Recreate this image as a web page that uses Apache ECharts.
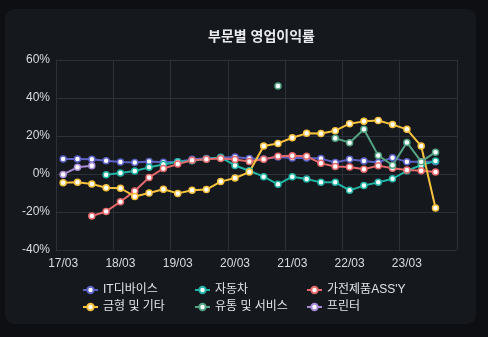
<!DOCTYPE html>
<html><head><meta charset="utf-8">
<script src="https://cdn.jsdelivr.net/npm/echarts@6/dist/echarts.min.js"></script>
<style>
html,body{margin:0;padding:0;background:#0d0f12;width:488px;height:337px;overflow:hidden}
#card{position:absolute;left:5px;top:9px;width:471px;height:315px;background:#15181d;border-radius:9px}
#c{position:absolute;left:0;top:0;width:488px;height:337px}
</style></head><body>
<div id="card"></div><div id="c"></div>
<script>
const categories = ['17/03','17/06','17/09','17/12','18/03','18/06','18/09','18/12','19/03','19/06','19/09','19/12',
  '20/03','20/06','20/09','20/12','21/03','21/06','21/09','21/12','22/03','22/06','22/09','22/12','23/03','23/06','23/09','23/12'];
const itDevice = [7.9,7.9,7.7,7.0,6.3,6.1,6.6,6.2,6.5,7.7,8.2,8.6,9.0,8.2,7.9,8.9,8.4,8.4,8.1,6.1,7.7,6.8,6.1,8.6,6.4,6.4,6.5,null];
const auto = [null,null,null,-0.4,0.5,1.6,3.5,5.0,6.4,7.0,7.9,8.8,4.5,1.7,-1.4,-5.4,-1.4,-2.6,-4.4,-4.4,-8.6,-6.1,-4.4,-2.5,1.7,4.7,6.8,null];
const appliance = [null,null,-22.1,-19.7,-14.6,-8.9,-1.8,2.9,5.2,7.2,7.7,8.2,7.6,6.6,7.7,9.3,9.6,9.3,5.6,4.0,3.7,2.5,4.4,3.0,2.1,1.7,1.0,null];
const mold = [-4.6,-4.4,-5.3,-7.2,-7.5,-11.8,-10.0,-8.0,-10.2,-8.6,-8.2,-4.0,-2.1,1.0,14.7,16.1,19.1,21.4,21.3,22.8,26.5,27.7,28.2,26.0,23.5,14.7,-17.9,null];
const retail = [null,null,null,null,null,null,null,null,null,null,null,null,null,null,null,46.3,null,null,null,18.8,16.5,23.5,9.8,4.6,16.6,6.5,11.5,null];
const printer = [-0.2,3.5,4.4,null,null,null,null,null,null,null,null,null,null,null,null,null,null,null,null,null,null,null,null,null,null,null,null,null];
const seriesNames = ['IT디바이스','자동차',"가전제품ASS'Y",'금형 및 기타','유통 및 서비스','프린터'];
const seriesColors = ['#5d62c6','#22b5a6','#e66a6c','#f7c23e','#55a585','#a98bd6'];
const yTicks = [-40,-20,0,20,40,60];

const FONT = 'Arial, "Liberation Sans", "Noto Sans CJK KR", sans-serif';
const allData = [itDevice, auto, appliance, mold, retail, printer];
const series = allData.map((d,i)=>({
  name: seriesNames[i], type:'line', data:d, symbol:'circle', symbolSize:6, showSymbol:true, showAllSymbol:true,
  lineStyle:{color:seriesColors[i], width:2}, itemStyle:{color:'#ffffff', borderColor:seriesColors[i], borderWidth:1.5},
  emphasis:{disabled:true}, animation:false
}));
const legendBase = {orient:'vertical', top:279, itemWidth:15, itemHeight:8, itemGap:5,
  textStyle:{color:'#e2e4e8', fontSize:12, fontFamily:FONT}, selectedMode:false};
const legendCols = [77, 189, 301];
const chart = echarts.init(document.getElementById('c'));
chart.setOption({
  backgroundColor:'transparent',
  animation:false,
  color: seriesColors,
  title:{text:'부문별 영업이익률', left:203, top:25, textStyle:{color:'#e8eaee', fontSize:14, fontWeight:'bold', fontFamily:FONT}},
  grid:{left:56, right:31, top:60, bottom:87, containLabel:false},
  xAxis:{type:'category', data:categories, boundaryGap:true,
    axisLine:{show:false}, axisTick:{show:false},
    axisLabel:{interval:3, color:'#d9dce1', fontSize:12, fontFamily:FONT, margin:8},
    splitLine:{show:true, interval:3, lineStyle:{color:'#2c3038', width:1}}},
  yAxis:{type:'value', min:yTicks[0], max:yTicks[yTicks.length-1], interval:20,
    axisLine:{show:false}, axisTick:{show:false},
    axisLabel:{formatter:'{value}%', color:'#d9dce1', fontSize:12, fontFamily:FONT, margin:6},
    splitLine:{show:true, lineStyle:{color:'#2c3038', width:1}}},
  legend: legendCols.map((x,k)=>Object.assign({}, legendBase, {left:x, data:[seriesNames[k], seriesNames[k+3]]})),
  series: series
});
</script>
</body></html>
